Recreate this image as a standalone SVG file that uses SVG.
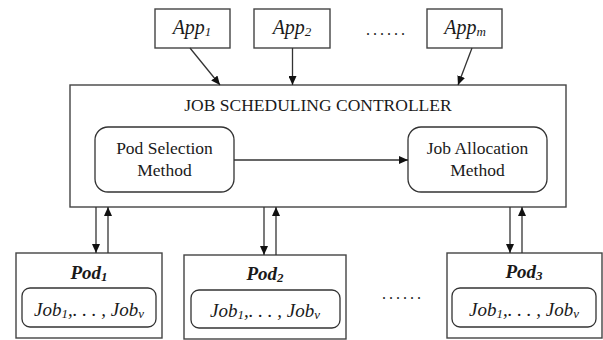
<svg xmlns="http://www.w3.org/2000/svg" width="603" height="340" viewBox="0 0 603 340">
  <defs>
    <marker id="arrow" markerUnits="userSpaceOnUse" markerWidth="9" markerHeight="8" refX="9" refY="4" orient="auto">
      <path d="M0,0 L9,4 L0,8 z" fill="#111"/>
    </marker>
    <style>
      .box { fill: #fff; stroke: #444; stroke-width: 1.4; }
      .rbox { fill: #fff; stroke: #333; stroke-width: 1.3; }
      .edge { stroke: #333; stroke-width: 1.3; fill: none; marker-end: url(#arrow); }
      text { font-family: "Liberation Serif", "Times New Roman", serif; fill: #1a1a1a; text-anchor: middle; }
      .title { font-size: 17.5px; }
      .label { font-size: 17.5px; }
      .app { font-size: 20px; font-style: italic; }
      .pod { font-size: 19px; font-style: italic; font-weight: bold; }
      .job { font-size: 19px; font-style: italic; }
      .sub { font-size: 13px; }
      .dots { font-size: 16px; letter-spacing: 3px; }
    </style>
  </defs>

  <rect width="603" height="340" fill="#fff"/>

  <!-- applications -->
  <g id="app1">
    <rect class="box" x="155" y="9" width="75" height="39"/>
    <text class="app" x="192" y="34">App<tspan class="sub" dy="2">1</tspan></text>
  </g>
  <g id="app2">
    <rect class="box" x="254" y="9" width="76" height="39"/>
    <text class="app" x="292" y="34">App<tspan class="sub" dy="2">2</tspan></text>
  </g>
  <text class="dots" x="387" y="35">......</text>
  <g id="appm">
    <rect class="box" x="427" y="9" width="75" height="39"/>
    <text class="app" x="465" y="34">App<tspan class="sub" dy="2">m</tspan></text>
  </g>

  <!-- controller -->
  <g id="controller">
    <rect class="box" x="70" y="85" width="496" height="122"/>
    <text class="title" x="318" y="111">JOB SCHEDULING CONTROLLER</text>
  </g>
  <g id="pod-selection">
    <rect class="rbox" x="95" y="127" width="139" height="65" rx="13" ry="13"/>
    <text class="label" x="164.5" y="154">Pod Selection</text>
    <text class="label" x="164.5" y="176">Method</text>
  </g>
  <g id="job-allocation">
    <rect class="rbox" x="408" y="127" width="139" height="65" rx="13" ry="13"/>
    <text class="label" x="477.5" y="154">Job Allocation</text>
    <text class="label" x="477.5" y="176">Method</text>
  </g>

  <!-- pods -->
  <g id="pod1">
    <rect class="box" x="16" y="253" width="146" height="85"/>
    <text class="pod" x="89" y="279">Pod<tspan class="sub" dy="2">1</tspan></text>
    <rect class="rbox" x="22" y="288" width="134" height="39" rx="8" ry="8"/>
    <text class="job" x="89" y="316">Job<tspan class="sub" dy="2">1</tspan><tspan dy="-2">,. . . , Job</tspan><tspan class="sub" dy="2">v</tspan></text>
  </g>
  <g id="pod2">
    <rect class="box" x="184" y="255" width="162" height="84"/>
    <text class="pod" x="265" y="280">Pod<tspan class="sub" dy="2">2</tspan></text>
    <rect class="rbox" x="191" y="290" width="149" height="38" rx="8" ry="8"/>
    <text class="job" x="265" y="317">Job<tspan class="sub" dy="2">1</tspan><tspan dy="-2">,. . . , Job</tspan><tspan class="sub" dy="2">v</tspan></text>
  </g>
  <text class="dots" x="403" y="299">......</text>
  <g id="pod3">
    <rect class="box" x="447" y="253" width="155" height="85"/>
    <text class="pod" x="524" y="278">Pod<tspan class="sub" dy="2">3</tspan></text>
    <rect class="rbox" x="452" y="288" width="144" height="39" rx="8" ry="8"/>
    <text class="job" x="524" y="316">Job<tspan class="sub" dy="2">1</tspan><tspan dy="-2">,. . . , Job</tspan><tspan class="sub" dy="2">v</tspan></text>
  </g>

  <!-- connectors -->
  <g id="connectors">
    <line class="edge" x1="190" y1="48" x2="220" y2="85"/>
    <line class="edge" x1="292.5" y1="48" x2="292.5" y2="85"/>
    <line class="edge" x1="472" y1="48" x2="458" y2="85"/>
    <line class="edge" x1="234" y1="160" x2="408" y2="160"/>
    <line class="edge" x1="96" y1="207" x2="96" y2="253"/>
    <line class="edge" x1="108" y1="253" x2="108" y2="207"/>
    <line class="edge" x1="264" y1="207" x2="264" y2="255"/>
    <line class="edge" x1="276" y1="255" x2="276" y2="207"/>
    <line class="edge" x1="510" y1="207" x2="510" y2="253"/>
    <line class="edge" x1="522" y1="253" x2="522" y2="207"/>
  </g>
</svg>
